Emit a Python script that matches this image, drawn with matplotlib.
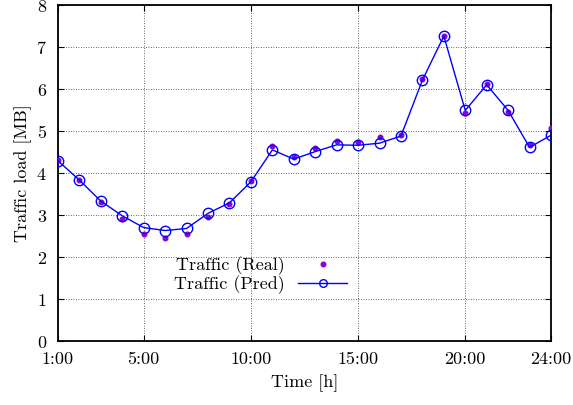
import matplotlib
matplotlib.use("Agg")
import matplotlib.pyplot as plt
from matplotlib.patches import Rectangle

plt.rcParams['font.family'] = ['cmr10', 'DejaVu Serif']
plt.rcParams['axes.formatter.use_mathtext'] = True
plt.rcParams['mathtext.fontset'] = 'cm'

hours = list(range(1, 25))
real = [4.30, 3.83, 3.32, 2.90, 2.55, 2.45, 2.54, 2.96, 3.26, 3.80, 4.64, 4.39,
        4.59, 4.77, 4.75, 4.86, 4.90, 6.23, 7.27, 5.44, 6.13, 5.45, 4.66, 5.07]
pred = [4.29, 3.83, 3.33, 2.98, 2.70, 2.63, 2.68, 3.04, 3.29, 3.79, 4.55, 4.33,
        4.51, 4.67, 4.66, 4.71, 4.88, 6.21, 7.26, 5.49, 6.10, 5.49, 4.61, 4.90]
xticks = [1, 5, 10, 15, 20, 24]
xticklabels = ["1:00", "5:00", "10:00", "15:00", "20:00", "24:00"]
yticks = [0, 1, 2, 3, 4, 5, 6, 7, 8]

fig = plt.figure(figsize=(5.73, 4.05), dpi=100)
ax = fig.add_axes([58/573, 1-341/405, (551-58)/573, (341-5)/405])

ax.set_xlim(1, 24)
ax.set_ylim(0, 8)
ax.set_xticks(xticks)
ax.set_xticklabels(xticklabels)
ax.set_yticks(yticks)
ax.tick_params(direction='in', length=4, width=0.8, top=True, right=True,
               labelsize=13)
ax.tick_params(axis='x', pad=8)
ax.tick_params(axis='y', pad=8)
for s in ax.spines.values():
    s.set_linewidth(1.3)

ax.grid(True, linestyle=(0, (1, 2)), color='#333333', linewidth=0.6, zorder=0)

# white box behind legend (hides grid like gnuplot key box)
ax.add_patch(Rectangle((4/23, 1.03/8), 10/23, 0.97/8, transform=ax.transAxes,
                       facecolor='white', edgecolor='none', zorder=1))

ax.plot(hours, real, linestyle='none', marker='o', markersize=3.3,
        color='#9400D3', label='Traffic (Real)', zorder=3)
ax.plot(hours, pred, linestyle='-', linewidth=1.0, color='#0000FF', marker='o',
        markersize=7.5, markerfacecolor='none', markeredgewidth=1.0,
        label='Traffic (Pred)', zorder=4)

ax.set_xlabel('Time [h]', fontsize=13, labelpad=5)
ax.set_ylabel('Traffic load [MB]', fontsize=13, labelpad=3)

leg = ax.legend(loc='center right', bbox_to_anchor=((347-58)/493, (341-275.4)/336),
                frameon=False, markerfirst=False, fontsize=13, handlelength=2.7,
                handletextpad=0.75, labelspacing=0.0, borderpad=0, borderaxespad=0)
leg.set_zorder(5)
leg.legend_handles[1].set_markersize(5.5)

fig.savefig('out.png', dpi=100)
